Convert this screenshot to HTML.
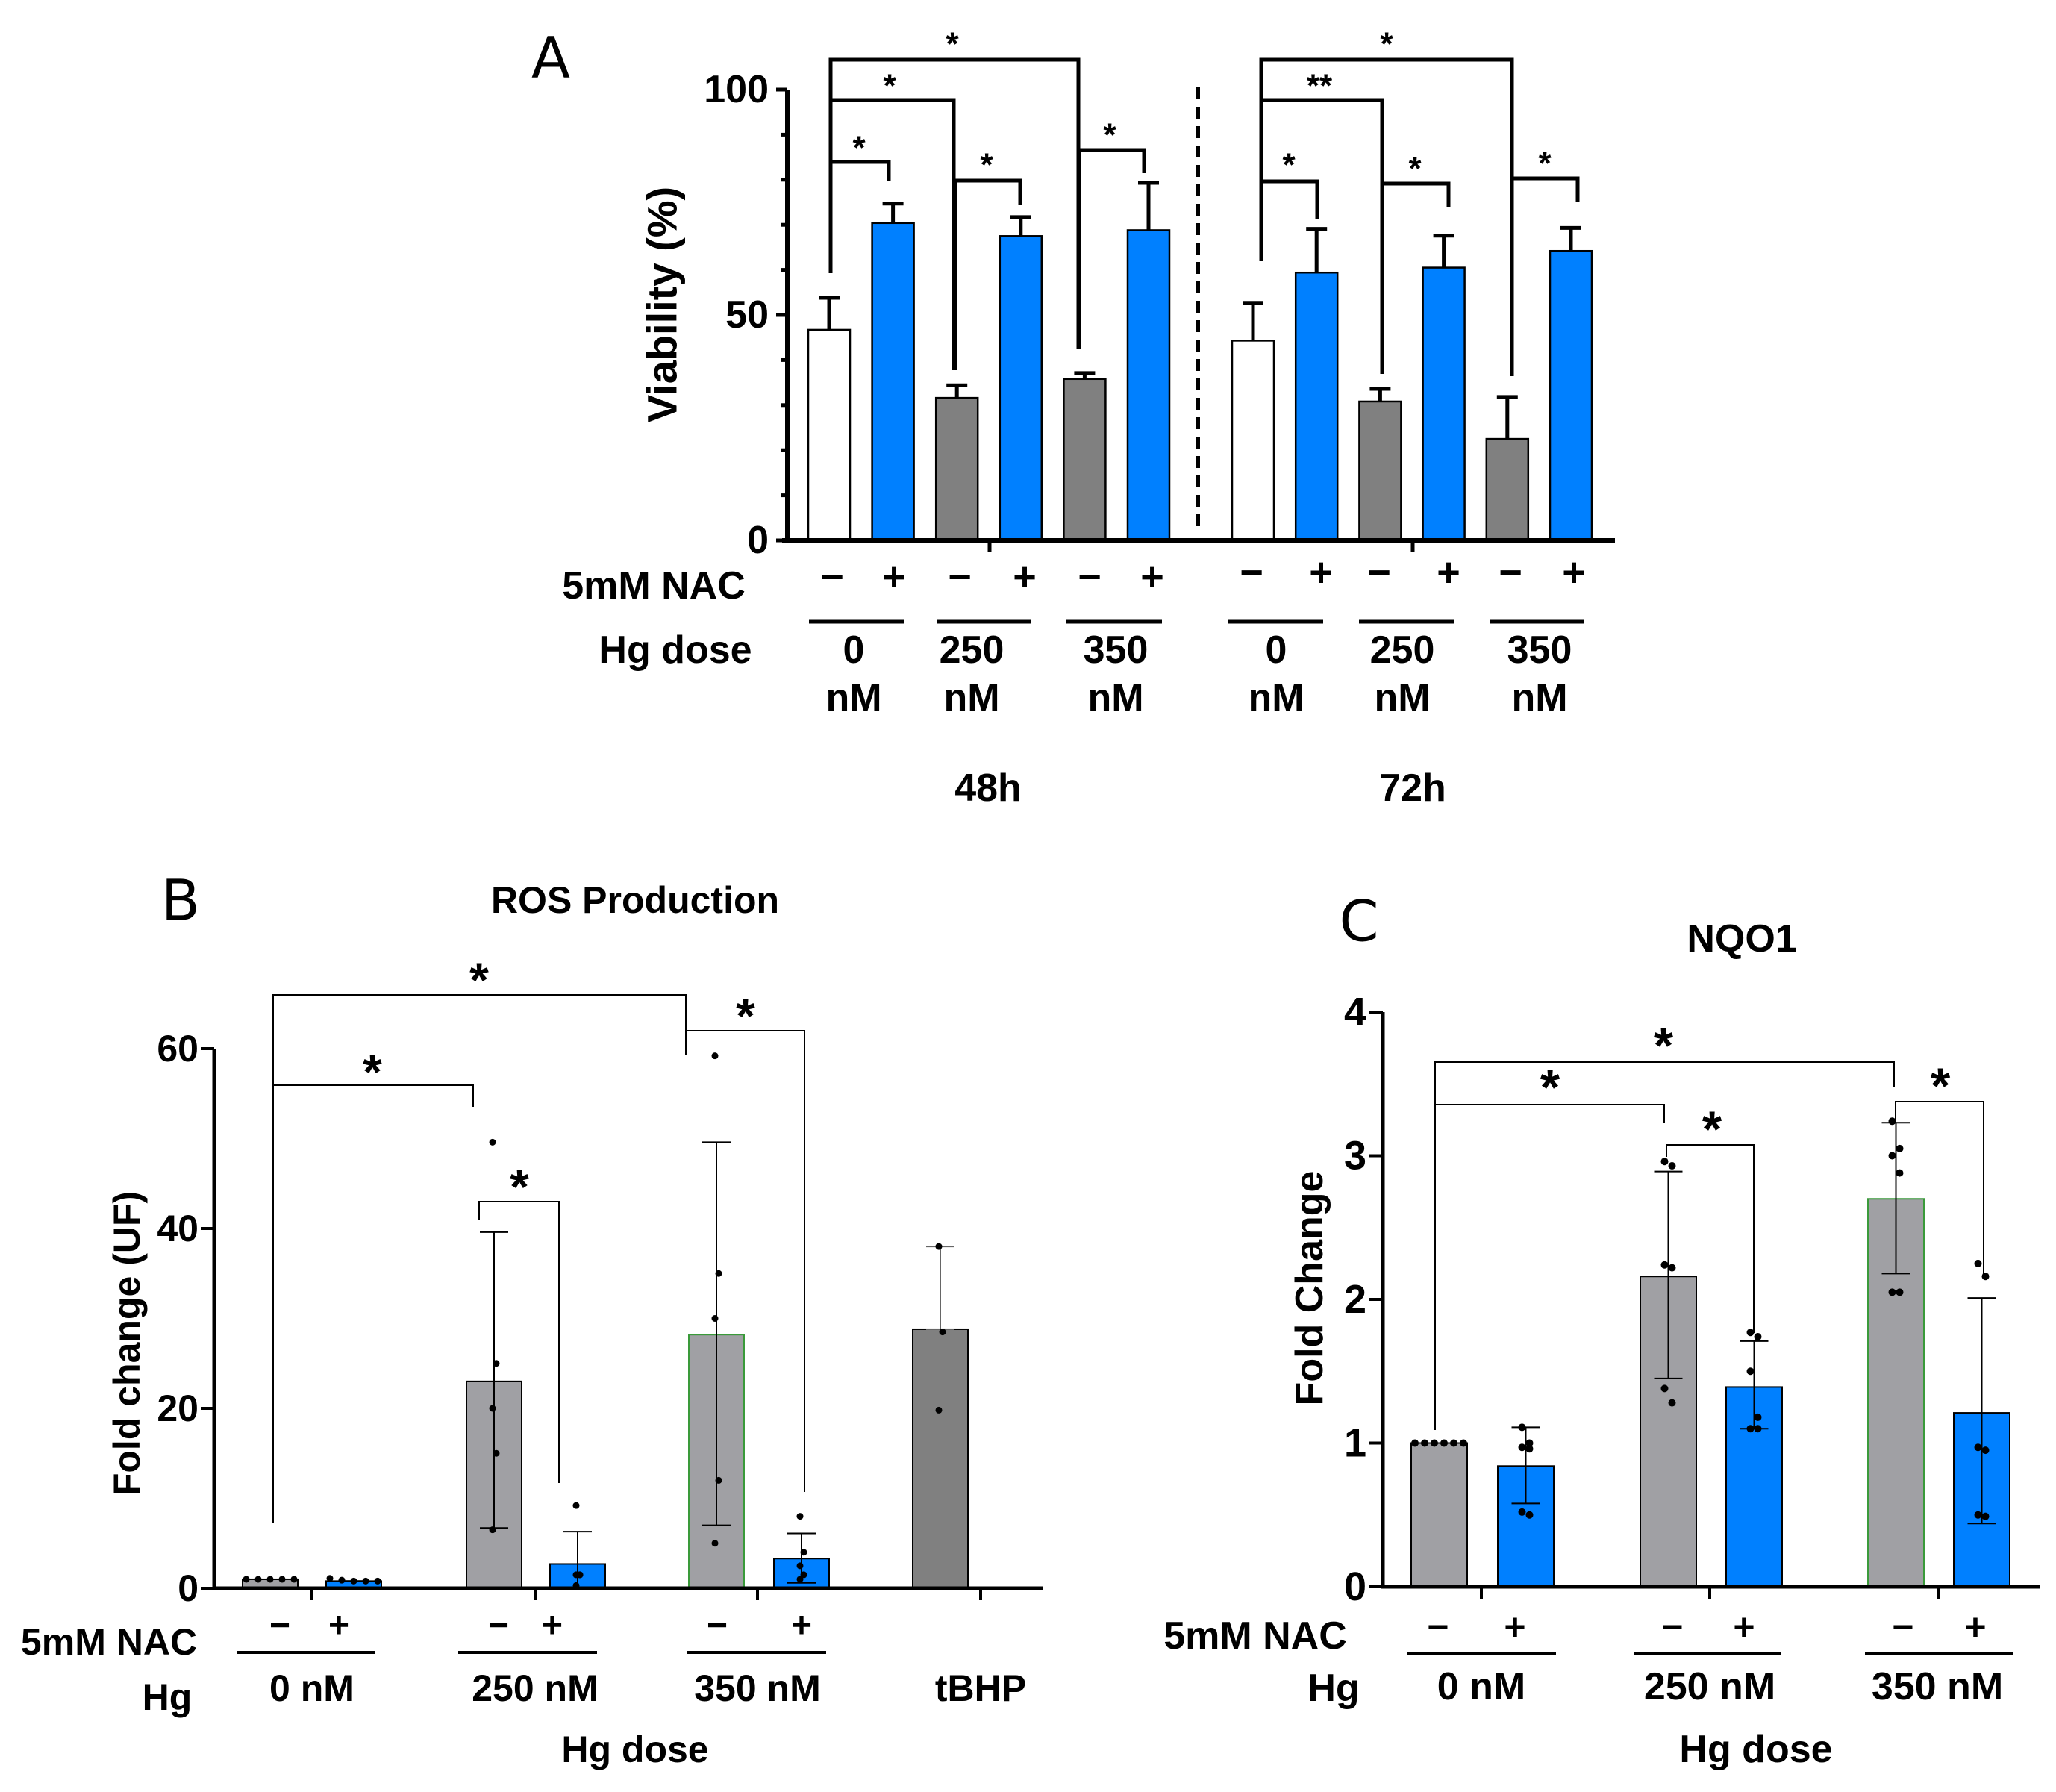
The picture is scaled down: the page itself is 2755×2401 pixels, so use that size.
<!DOCTYPE html>
<html><head><meta charset="utf-8"><style>
html,body{margin:0;padding:0;background:#fff;}
svg{display:block;}
text{font-family:"Liberation Sans",sans-serif;font-weight:bold;fill:#000;}
.nar{font-family:"Liberation Sans Narrow","Liberation Sans",sans-serif;}
.lt{font-weight:normal;font-family:"DejaVu Sans","Liberation Sans",sans-serif;}
</style></head><body>
<svg id="fig" width="2755" height="2401" viewBox="0 0 2755 2401" xmlns="http://www.w3.org/2000/svg">
<g id="pa"></g>
<g id="pb"></g>
<g id="pc"></g>
</svg>
<script>
// ---------- Panel A data ----------
const aGroups = ['0 nM -', '0 nM +', '250 nM -', '250 nM +', '350 nM -', '350 nM +'];
const a48Values = [46.7, 70.4, 31.6, 67.5, 35.8, 68.8];
const a48Err = [7.1, 4.3, 2.8, 4.2, 1.3, 10.5];
const a72Values = [44.3, 59.4, 30.8, 60.5, 22.5, 64.2];
const a72Err = [8.4, 9.7, 2.8, 7.1, 9.3, 5.1];
const aTicks = [0, 50, 100];
// ---------- Panel B data ----------
const bGroups = ['0 nM -', '0 nM +', '250 nM -', '250 nM +', '350 nM -', '350 nM +', 'tBHP'];
const bValues = [1.0, 0.8, 23.0, 2.7, 28.2, 3.3, 28.8];
const bErrLow = [1.0, 0.8, 6.7, 0, 7.0, 0.6, 28.8];
const bErrHigh = [1.0, 0.8, 39.6, 6.3, 49.6, 6.1, 38.0];
const bDots0m = [1, 1, 1, 1, 1];
const bDots0p = [1.1, 0.9, 0.8, 0.8, 0.8];
const bDots250m = [49.6, 25, 20, 15, 6.5];
const bDots250p = [9.2, 1.5, 1.5, 1.5, 0.3];
const bDots350m = [59.2, 35, 30, 12, 5];
const bDots350p = [8, 4, 2.5, 1.5, 1.0];
const bDotsT = [38, 28.5, 19.8];
const bTicks = [0, 20, 40, 60];
// ---------- Panel C data ----------
const cGroups = ['0 nM -', '0 nM +', '250 nM -', '250 nM +', '350 nM -', '350 nM +'];
const cValues = [1.0, 0.84, 2.16, 1.39, 2.70, 1.21];
const cErrLow = [1.0, 0.58, 1.45, 1.10, 2.18, 0.44];
const cErrHigh = [1.0, 1.11, 2.89, 1.71, 3.23, 2.01];
const cDots0m = [1, 1, 1, 1, 1, 1];
const cDots0p = [1.11, 1.0, 0.97, 0.96, 0.52, 0.50];
const cDots250m = [2.96, 2.93, 2.24, 2.22, 1.38, 1.28];
const cDots250p = [1.77, 1.74, 1.50, 1.18, 1.10, 1.10];
const cDots350m = [3.24, 3.05, 3.0, 2.88, 2.05, 2.05];
const cDots350p = [2.25, 2.16, 0.97, 0.95, 0.50, 0.49];
const cTicks = [0, 1, 2, 3, 4];

const NS = 'http://www.w3.org/2000/svg';
function mk(tag, attrs, parent) {
  const e = document.createElementNS(NS, tag);
  for (const k in attrs) e.setAttribute(k, attrs[k]);
  parent.appendChild(e);
  return e;
}
function tx(str, x, y, size, parent, anchor, cls) {
  const e = mk('text', {x: x, y: y, 'font-size': size, 'text-anchor': anchor || 'middle', 'dominant-baseline': 'central'}, parent);
  if (cls) e.setAttribute('class', cls);
  e.textContent = str;
  return e;
}
function ln(x1, y1, x2, y2, w, parent) {
  return mk('line', {x1: x1, y1: y1, x2: x2, y2: y2, stroke: '#000', 'stroke-width': w}, parent);
}
function pl(pts, w, parent) {
  return mk('polyline', {points: pts, fill: 'none', stroke: '#000', 'stroke-width': w}, parent);
}
const BLUE = '#0080ff';

// ================= PANEL A =================
(function () {
  const g = document.getElementById('pa');
  const yA = v => 724 - v * 6.04;
  const W = 56;
  const x48 = i => 1083 + i * 85.6;
  const x72 = i => 1651 + i * 85.2;
  const fills = ['#fff', BLUE, '#808080', BLUE, '#808080', BLUE];
  let e;
  e = tx('A', 738, 77, 76, g, 'middle', 'lt');
  
  
  [[a48Values, a48Err, x48, '48h'], [a72Values, a72Err, x72, '72h']].forEach(set => {
    const vals = set[0], errs = set[1], xf = set[2];
    vals.forEach((v, i) => {
      const cx = xf(i) + W / 2;
      const eb = ln(cx, yA(v), cx, yA(v + errs[i]), 5, g);
      
      
      const cap = ln(cx - 14, yA(v + errs[i]), cx + 14, yA(v + errs[i]), 5, g);
      
      
      const r = mk('rect', {x: xf(i), y: yA(v), width: W, height: yA(0) - yA(v), fill: fills[i], stroke: '#000', 'stroke-width': 2.5}, g);
      
      
    });
  });
  e = ln(1055, yA(100), 1055, yA(0) + 2, 6, g);
  
  
  e = ln(1048, yA(0), 2164, yA(0), 6, g);
  
  
  for (let v = 0; v <= 100; v += 10) {
    const major = v % 50 === 0;
    const t = ln(major ? 1040 : 1046, yA(v), 1055, yA(v), 5, g);
    
    
  }
  aTicks.forEach(v => {
    const t = tx(String(v), 1030, yA(v), 52, g, 'end', 'nar');
    
    
  });
  [1326, 1893].forEach(x => {
    const t = ln(x, yA(0), x, yA(0) + 16, 5, g);
    
    
  });
  e = tx('Viability (%)', 887, 408, 56, g, 'middle', 'nar');
  e.setAttribute('transform', 'rotate(-90 887 408)');
  
  
  e = mk('line', {x1: 1605, y1: 117, x2: 1605, y2: 715, stroke: '#000', 'stroke-width': 6, 'stroke-dasharray': '16 10'}, g);
  
  
  const br = [
    ['1113,366 1113,80 1445,80 1445,468', 1276, 53, '*'],
    ['1113,366 1113,134 1278,134 1278,496', 1192, 109, '*'],
    ['1113,366 1113,217 1191,217 1191,242', 1151, 192, '*'],
    ['1280,496 1280,242 1367,242 1367,275', 1322, 215, '*'],
    ['1446,468 1446,201 1533,201 1533,232', 1487, 175, '*'],
    ['1690,350 1690,80 2026,80 2026,504', 1858, 53, '*'],
    ['1690,350 1690,134 1852,134 1852,501', 1768, 109, '**'],
    ['1690,350 1690,243 1765,243 1765,294', 1727, 215, '*'],
    ['1852,501 1852,246 1941,246 1941,278', 1896, 220, '*'],
    ['2026,504 2026,239 2114,239 2114,271', 2070, 213, '*']
  ];
  br.forEach(b => {
    const p = pl(b[0], 5, g);
    
    
    const s = tx(b[3], b[1], b[2] + 6, 44, g, 'middle', 'nar');
    
    
  });
  e = tx('5mM NAC', 876, 785, 52, g, 'middle', 'nar');
  
  
  const sx48 = [1115, 1198, 1286, 1373, 1460, 1544];
  const sx72 = [1677, 1770, 1848, 1941, 2024, 2109];
  const sg = ['−', '+', '−', '+', '−', '+'];
  sx48.forEach((x, i) => { const t = tx(sg[i], x, 773, 54, g);   });
  sx72.forEach((x, i) => { const t = tx(sg[i], x, 767, 54, g);   });
  [[1084, 1212], [1255, 1381], [1429, 1557], [1645, 1773], [1821, 1948], [1997, 2123]].forEach(s => {
    const t = ln(s[0], 833, s[1], 833, 5, g);
    
    
  });
  e = tx('Hg dose', 905, 871, 52, g, 'middle', 'nar');
  
  
  const dx = [1144, 1302, 1495, 1710, 1879, 2063];
  const dl = ['0', '250', '350', '0', '250', '350'];
  dx.forEach((x, i) => {
    const t = tx(dl[i], x, 871, 52, g, 'middle', 'nar');
    
    
    const u = tx('nM', x, 935, 52, g, 'middle', 'nar');
    
    
  });
  e = tx('48h', 1324, 1056, 52, g, 'middle', 'nar');
  
  
  e = tx('72h', 1893, 1056, 52, g, 'middle', 'nar');
  
  
})();

// ================= PANEL B =================
(function () {
  const g = document.getElementById('pb');
  const yB = v => 2128 - v * 12.05;
  const W = 74;
  const bx = [325, 437, 625, 737, 923, 1037, 1223];
  const fills = ['#a0a0a4', BLUE, '#a0a0a4', BLUE, '#a0a0a4', BLUE, '#808080'];
  const strokes = ['#000', '#000', '#000', '#000', '#3a9a3a', '#000', '#000'];
  const dots = [bDots0m, bDots0p, bDots250m, bDots250p, bDots350m, bDots350p, bDotsT];
  let e;
  e = tx('B', 242, 1206, 76, g, 'middle', 'lt');
  
  
  e = tx('ROS Production', 851, 1206, 50, g);
  
  
  bValues.forEach((v, i) => {
    const r = mk('rect', {x: bx[i], y: yB(v), width: W, height: yB(0) - yB(v), fill: fills[i], stroke: strokes[i], 'stroke-width': 2}, g);
    
    
    const cx = bx[i] + W / 2;
    const col = i === 6 ? '#666' : '#000';
    const eb = mk('line', {x1: cx, y1: yB(bErrLow[i]), x2: cx, y2: yB(bErrHigh[i]), stroke: col, 'stroke-width': 2}, g);
    
    
    [bErrLow[i], bErrHigh[i]].forEach(ev => {
      const c = mk('line', {x1: cx - 19, y1: yB(ev), x2: cx + 19, y2: yB(ev), stroke: col, 'stroke-width': 2}, g);
      
      
    });
    const n = dots[i].length;
    dots[i].forEach((d, j) => {
      const off = (i < 2) ? (j - (n - 1) / 2) * 16 : ((j % 2) ? 5 : 0) - 2;
      const c = mk('circle', {cx: cx + off, cy: yB(d), r: 4.5, fill: '#000'}, g);
      
      
    });
  });
  e = ln(287, yB(60), 287, yB(0) + 2, 5, g);
  
  
  e = ln(285, yB(0), 1398, yB(0), 5, g);
  
  
  bTicks.forEach(v => {
    const t = ln(270, yB(v), 287, yB(v), 4, g);
    
    
    const l = tx(String(v), 266, yB(v), 50, g, 'end');
    
    
  });
  [418, 717, 1015, 1314].forEach(x => {
    const t = ln(x, yB(0), x, yB(0) + 16, 4, g);
    
    
  });
  e = tx('Fold change (UF)', 170, 1800, 50, g);
  e.setAttribute('transform', 'rotate(-90 170 1800)');
  
  
  const br = [
    ['366,2041 366,1333 919,1333 919,1414', 642, 1303],
    ['366,2041 366,1454 634,1454 634,1483', 499, 1426],
    ['919,1414 919,1381 1078,1381 1078,1999', 999, 1351],
    ['642,1635 642,1610 749,1610 749,1987', 696, 1580]
  ];
  br.forEach(b => {
    const p = pl(b[0], 2, g);
    
    
    const s = tx('*', b[1], b[2] + 10, 66, g);
    
    
  });
  e = tx('5mM NAC', 146, 2200, 50, g);
  
  
  const sx = [375, 454, 668, 740, 961, 1074];
  const sg = ['−', '+', '−', '+', '−', '+'];
  sx.forEach((x, i) => { const t = tx(sg[i], x, 2178, 48, g);   });
  [[318, 502], [614, 800], [921, 1107]].forEach(s => {
    const t = ln(s[0], 2214, s[1], 2214, 4, g);
    
    
  });
  e = tx('Hg', 224, 2274, 50, g);
  
  
  const dl = ['0 nM', '250 nM', '350 nM', 'tBHP'];
  [418, 717, 1015, 1314].forEach((x, i) => {
    const t = tx(dl[i], x, 2262, 50, g);
    
    
  });
  e = tx('Hg dose', 851, 2344, 50, g);
  
  
})();

// ================= PANEL C =================
(function () {
  const g = document.getElementById('pc');
  const yC = v => 2126 - v * 192.5;
  const W = 75;
  const cx0 = [1891, 2007, 2198, 2313, 2503, 2618];
  const fills = ['#a0a0a4', BLUE, '#a0a0a4', BLUE, '#a0a0a4', BLUE];
  const strokes = ['#000', '#000', '#000', '#000', '#3a9a3a', '#000'];
  const dots = [cDots0m, cDots0p, cDots250m, cDots250p, cDots350m, cDots350p];
  let e;
  e = tx('C', 1821, 1234, 76, g, 'middle', 'lt');
  
  
  e = tx('NQO1', 2334, 1258, 52, g);
  
  
  cValues.forEach((v, i) => {
    const r = mk('rect', {x: cx0[i], y: yC(v), width: W, height: yC(0) - yC(v), fill: fills[i], stroke: strokes[i], 'stroke-width': 2}, g);
    
    
    const cx = cx0[i] + W / 2;
    const eb = ln(cx, yC(cErrLow[i]), cx, yC(cErrHigh[i]), 2, g);
    
    
    [cErrLow[i], cErrHigh[i]].forEach(ev => {
      const c = ln(cx - 19, yC(ev), cx + 19, yC(ev), 2, g);
      
      
    });
    const n = dots[i].length;
    dots[i].forEach((d, j) => {
      const off = i === 0 ? (j - (n - 1) / 2) * 13 : ((j % 2) ? 5 : -5);
      const c = mk('circle', {cx: cx + off, cy: yC(d), r: 5, fill: '#000'}, g);
      
      
    });
  });
  e = ln(1853, yC(4), 1853, yC(0) + 2, 5, g);
  
  
  e = ln(1851, yC(0), 2733, yC(0), 5, g);
  
  
  cTicks.forEach(v => {
    const t = ln(1835, yC(v), 1853, yC(v), 4, g);
    
    
    const l = tx(String(v), 1831, yC(v), 54, g, 'end');
    
    
  });
  [1985, 2291, 2598].forEach(x => {
    const t = ln(x, yC(0), x, yC(0) + 16, 4, g);
    
    
  });
  e = tx('Fold Change', 1755, 1726, 52, g);
  e.setAttribute('transform', 'rotate(-90 1755 1726)');
  
  
  const br = [
    ['1923,1916 1923,1423 2538,1423 2538,1456', 2229, 1391],
    ['1923,1916 1923,1480 2230,1480 2230,1504', 2077, 1447],
    ['2233,1550 2233,1534 2350,1534 2350,1786', 2294, 1503],
    ['2540,1502 2540,1476 2658,1476 2658,1710', 2600, 1445]
  ];
  br.forEach(b => {
    const p = pl(b[0], 2, g);
    
    
    const s = tx('*', b[1], b[2] + 10, 68, g);
    
    
  });
  e = tx('5mM NAC', 1682, 2192, 52, g);
  
  
  const sx = [1927, 2030, 2241, 2337, 2550, 2647];
  const sg = ['−', '+', '−', '+', '−', '+'];
  sx.forEach((x, i) => { const t = tx(sg[i], x, 2180, 50, g);   });
  [[1886, 2085], [2189, 2387], [2499, 2698]].forEach(s => {
    const t = ln(s[0], 2216, s[1], 2216, 4, g);
    
    
  });
  e = tx('Hg', 1787, 2262, 52, g);
  
  
  const dl = ['0 nM', '250 nM', '350 nM'];
  [1985, 2291, 2596].forEach((x, i) => {
    const t = tx(dl[i], x, 2260, 52, g);
    
    
  });
  e = tx('Hg dose', 2353, 2344, 52, g);
  
  
})();
</script>
</body></html>
